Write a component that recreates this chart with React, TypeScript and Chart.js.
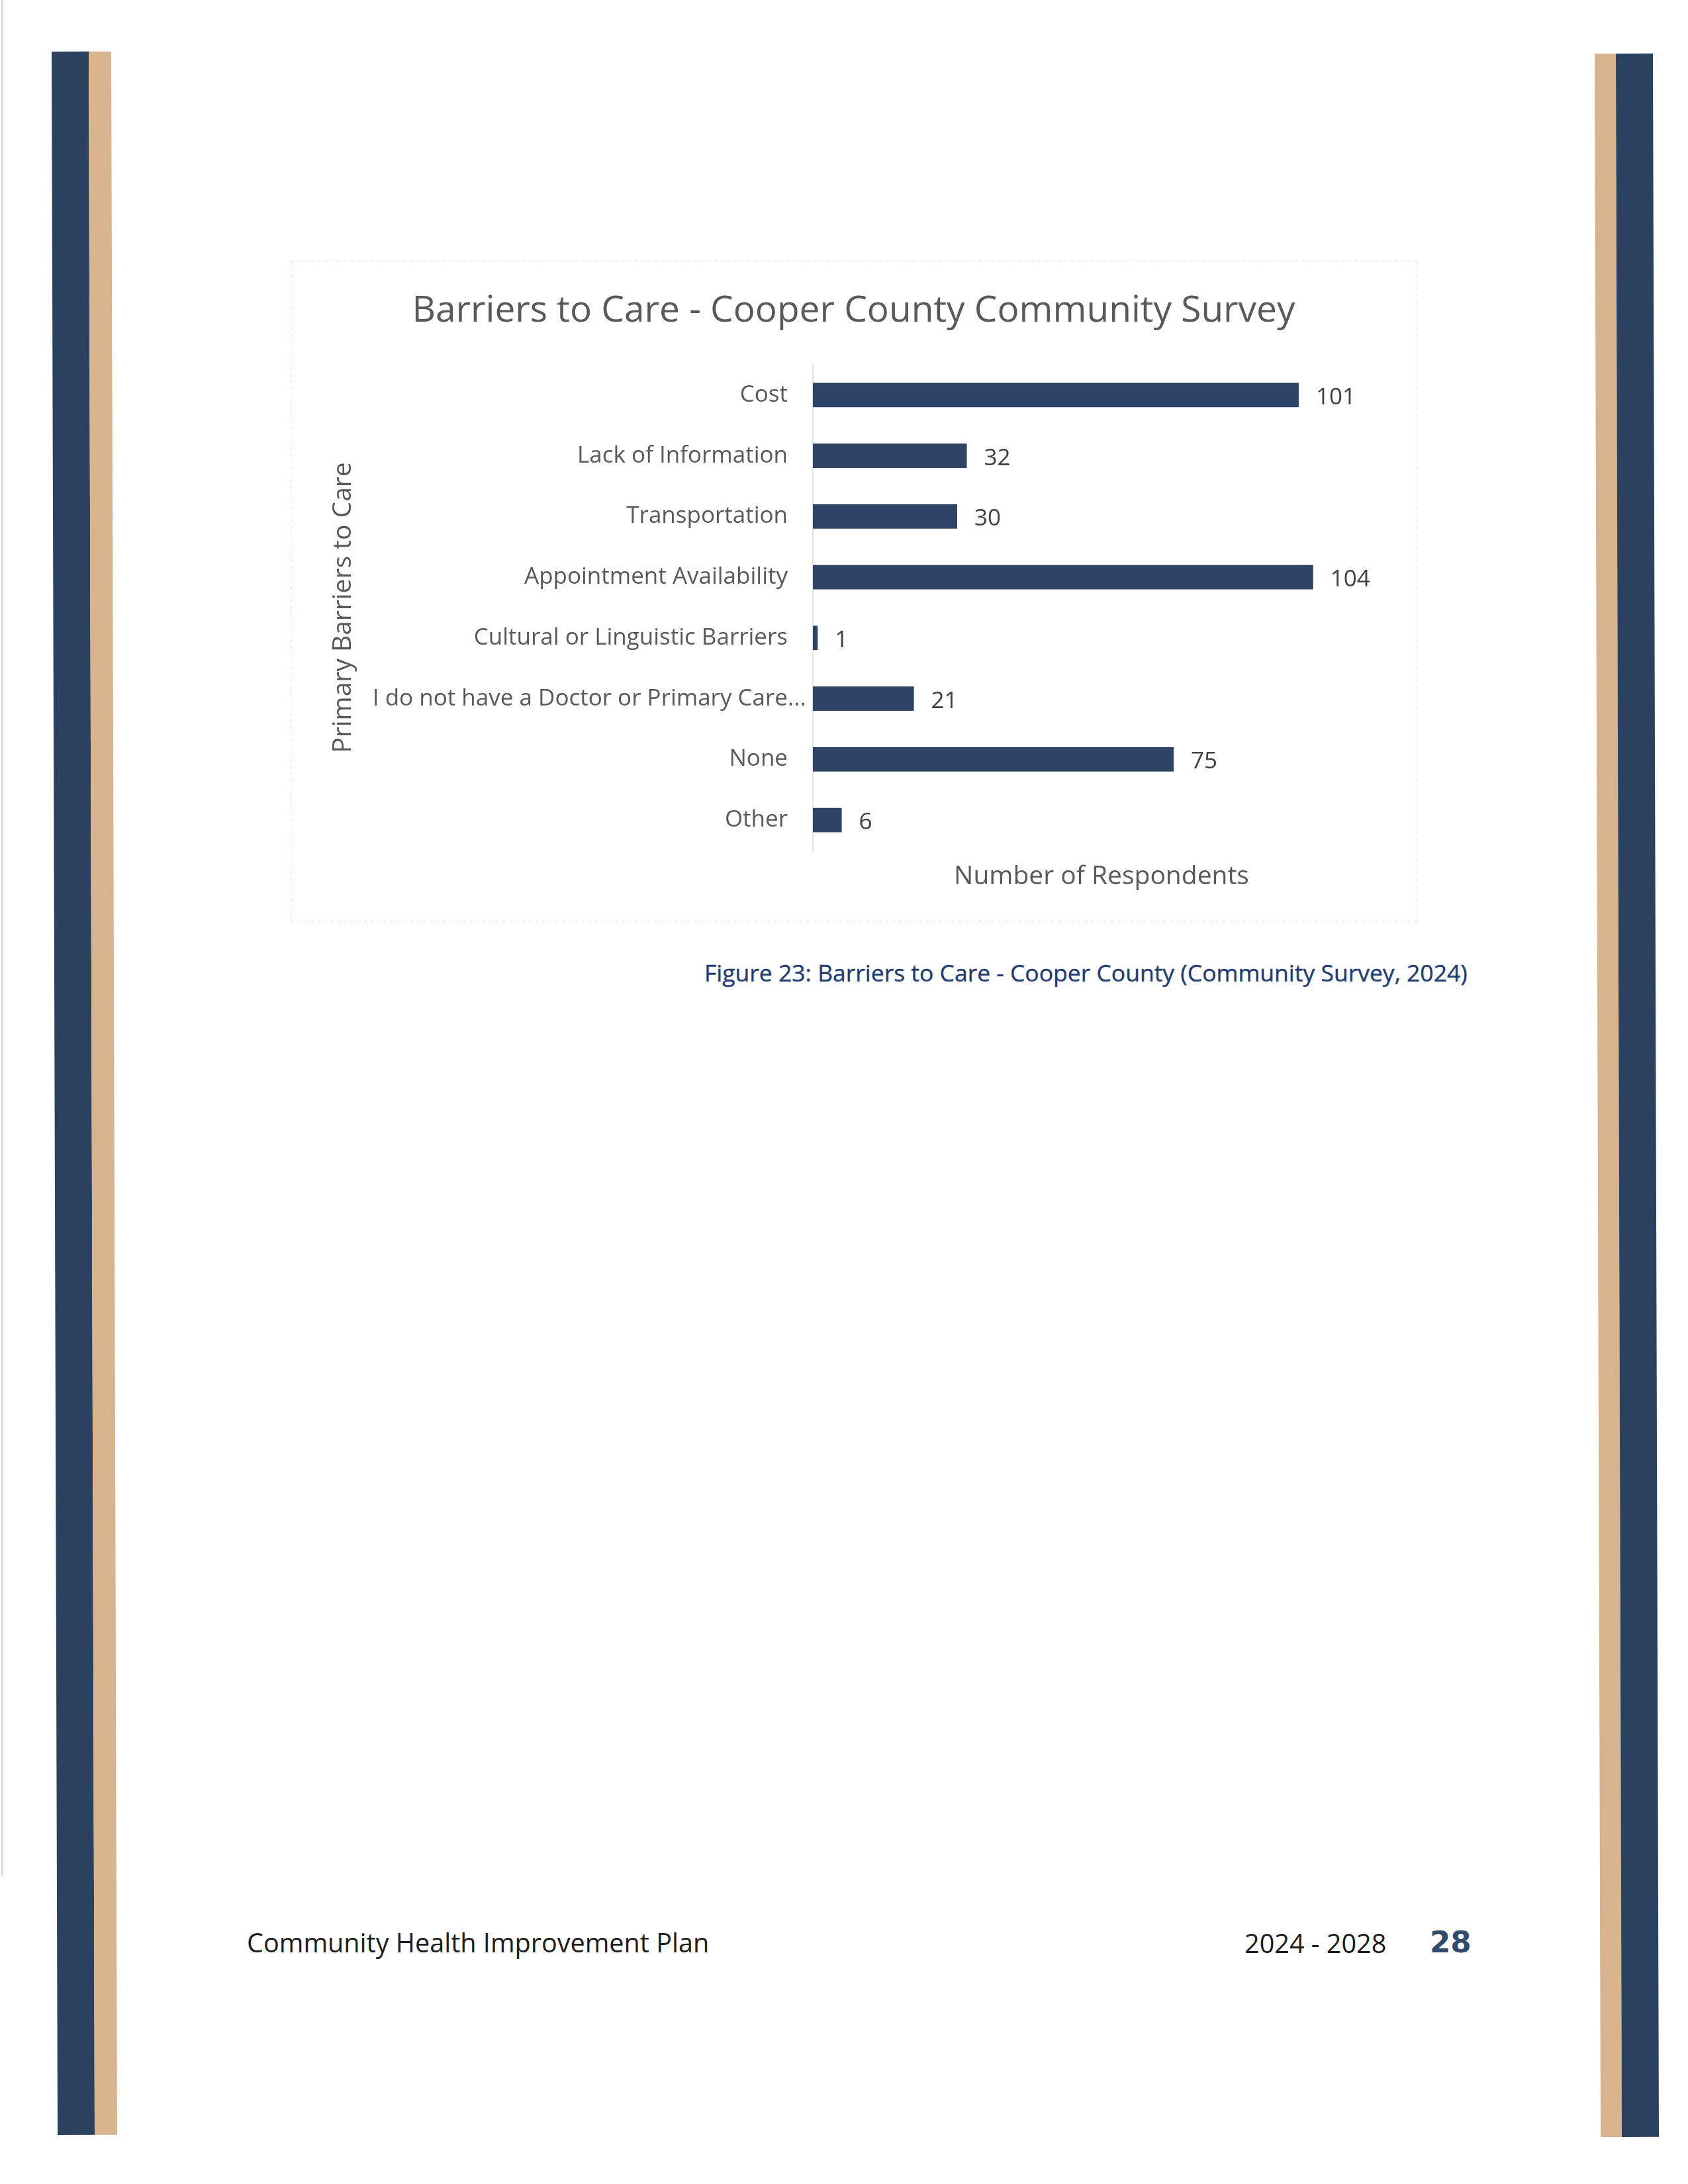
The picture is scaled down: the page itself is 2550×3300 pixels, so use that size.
import React, { useEffect, useRef } from "react";
import { Chart, registerables } from "chart.js";

Chart.register(...registerables);

const chartTitle = "Barriers to Care - Cooper County Community Survey";
const categories = [
  "Cost",
  "Lack of Information",
  "Transportation",
  "Appointment Availability",
  "Cultural or Linguistic Barriers",
  "I do not have a Doctor or Primary Care...",
  "None",
  "Other",
];
const respondents = [101, 32, 30, 104, 1, 21, 75, 6];
const xAxisTitle = "Number of Respondents";
const yAxisTitle = "Primary Barriers to Care";
const xMax = 120;

const FONT = "'Open Sans', 'Noto Sans', sans-serif";

// Category labels: right-aligned, with a truncation ellipsis hanging past the alignment edge (as Excel does)
const categoryLabels = {
  id: "categoryLabels",
  afterDraw(chart: any) {
    const ctx = chart.ctx;
    const scale = chart.scales.y;
    const labels = chart.data.labels as string[];
    const xRight = scale.right - 38;
    ctx.save();
    ctx.font = `35px ${FONT}`;
    ctx.fillStyle = "#595959";
    ctx.textBaseline = "middle";
    labels.forEach((lab, i) => {
      const y = scale.getPixelForTick(i);
      if (lab.endsWith("...")) {
        const base = lab.slice(0, -3);
        ctx.textAlign = "right";
        ctx.fillText(base, xRight, y);
        ctx.textAlign = "left";
        ctx.fillText("...", xRight, y);
      } else {
        ctx.textAlign = "right";
        ctx.fillText(lab, xRight, y);
      }
    });
    ctx.restore();
  },
};

const valueLabels = {
  id: "valueLabels",
  afterDatasetsDraw(chart: any) {
    const ctx = chart.ctx;
    const meta = chart.getDatasetMeta(0);
    const data = chart.data.datasets[0].data;
    ctx.save();
    ctx.font = `35px ${FONT}`;
    ctx.fillStyle = "#404040";
    ctx.textAlign = "left";
    ctx.textBaseline = "middle";
    meta.data.forEach((bar: any, i: number) => {
      ctx.fillText(String(data[i]), bar.x + 26, bar.y + 4);
    });
    ctx.restore();
  },
};

function BarChart() {
  const ref = useRef<HTMLCanvasElement | null>(null);
  useEffect(() => {
    if (!ref.current) return;
    const chart = new Chart(ref.current, {
      type: "bar",
      data: {
        labels: categories,
        datasets: [
          {
            data: respondents,
            backgroundColor: "#2e4467",
            borderWidth: 0,
            categoryPercentage: 0.8,
            barPercentage: 0.5,
          },
        ],
      },
      options: {
        indexAxis: "y",
        responsive: false,
        animation: false,
        devicePixelRatio: 1,
        layout: { padding: { left: 40, right: 42, top: 0, bottom: 0 } },
        plugins: {
          legend: { display: false },
          tooltip: { enabled: false },
          title: {
            display: true,
            text: chartTitle,
            color: "#595959",
            font: { family: FONT, size: 55, weight: "normal", lineHeight: 1.2 },
            padding: { top: 44, bottom: 48 },
          },
        },
        scales: {
          y: {
            type: "category",
            position: "left",
            grid: { display: false, drawTicks: false },
            border: { display: true, color: "#e2e2e2", width: 2, dash: [4, 5] },
            ticks: { display: false },
            title: {
              display: true,
              text: yAxisTitle,
              color: "#595959",
              font: { family: FONT, size: 39, lineHeight: 1.2 },
              padding: { top: 16, bottom: 0 },
            },
            afterFit: (scale: any) => {
              scale.width = 749;
            },
          },
          x: {
            type: "linear",
            min: 0,
            max: xMax,
            grid: { display: false, drawTicks: false },
            border: { display: false },
            ticks: { display: false },
            title: {
              display: true,
              text: xAxisTitle,
              color: "#595959",
              font: { family: FONT, size: 39, lineHeight: 1.2 },
              padding: { top: 0, bottom: 45 },
            },
            afterFit: (scale: any) => {
              scale.height = 108;
            },
          },
        },
      },
      plugins: [valueLabels, categoryLabels],
    } as any);
    (document as any).fonts?.ready?.then(() => {
      try {
        chart.update();
      } catch (e) {}
    });
    return () => chart.destroy();
  }, []);
  return (
    <canvas
      ref={ref}
      width={1703}
      height={1000}
      style={{ position: "absolute", left: 0, top: 0, width: 1703, height: 1000 }}
    />
  );
}

const abs = (o: React.CSSProperties): React.CSSProperties => ({ position: "absolute", ...o });

export default function App() {
  return (
    <div
      style={abs({
        left: 0,
        top: 0,
        width: 2550,
        height: 3300,
        background: "#ffffff",
        overflow: "hidden",
        fontFamily: FONT,
      })}
    >
      {/* scan edge line */}
      <div style={abs({ left: 2, top: 0, width: 3, height: 2835, background: "#dddddd" })} />

      {/* left stripes */}
      <div style={abs({ left: 78, top: 78, width: 90, height: 3148, transform: "rotate(-0.164deg)", transformOrigin: "0 0" })}>
        <div style={abs({ left: 0, top: 0, width: 56, height: 3148, background: "#2a4260" })} />
        <div style={abs({ left: 56, top: 0, width: 34, height: 3148, background: "#d8b48e" })} />
      </div>
      {/* right stripes */}
      <div style={abs({ left: 2409, top: 81, width: 88, height: 3148, transform: "rotate(-0.164deg)", transformOrigin: "0 0" })}>
        <div style={abs({ left: 0, top: 0, width: 32, height: 3148, background: "#d8b48e" })} />
        <div style={abs({ left: 32, top: 0, width: 56, height: 3148, background: "#2a4260" })} />
      </div>

      {/* chart frame */}
      <div
        style={abs({
          left: 439,
          top: 393,
          width: 1703,
          height: 1000,
          boxSizing: "border-box",
          border: "2px dashed #f2f2f2",
        })}
      />
      <div style={abs({ left: 439, top: 393, width: 1703, height: 1000 })}>
        <BarChart />
      </div>

      {/* caption */}
      <div
        style={abs({
          left: 1064,
          top: 1452,
          fontSize: 35.5,
          lineHeight: "35.5px",
          color: "#1f3c73",
          whiteSpace: "nowrap",
          WebkitTextStroke: "0.4px #1f3c73",
        })}
      >
        Figure 23: Barriers to Care - Cooper County (Community Survey, 2024)
      </div>

      {/* footer */}
      <div
        style={abs({
          left: 373,
          top: 2915,
          fontSize: 39.6,
          lineHeight: "40px",
          color: "#1c1c1c",
          whiteSpace: "nowrap",
        })}
      >
        Community Health Improvement Plan
      </div>
      <div
        style={abs({
          left: 1880,
          top: 2916,
          fontSize: 39.6,
          lineHeight: "40px",
          color: "#1c1c1c",
          whiteSpace: "nowrap",
        })}
      >
        2024 - 2028
      </div>
      <div
        style={abs({
          left: 2160,
          top: 2912,
          fontSize: 45,
          lineHeight: "45px",
          fontWeight: 700,
          fontFamily: "'DejaVu Sans', sans-serif",
          color: "#2f4a6a",
          whiteSpace: "nowrap",
        })}
      >
        28
      </div>
    </div>
  );
}
